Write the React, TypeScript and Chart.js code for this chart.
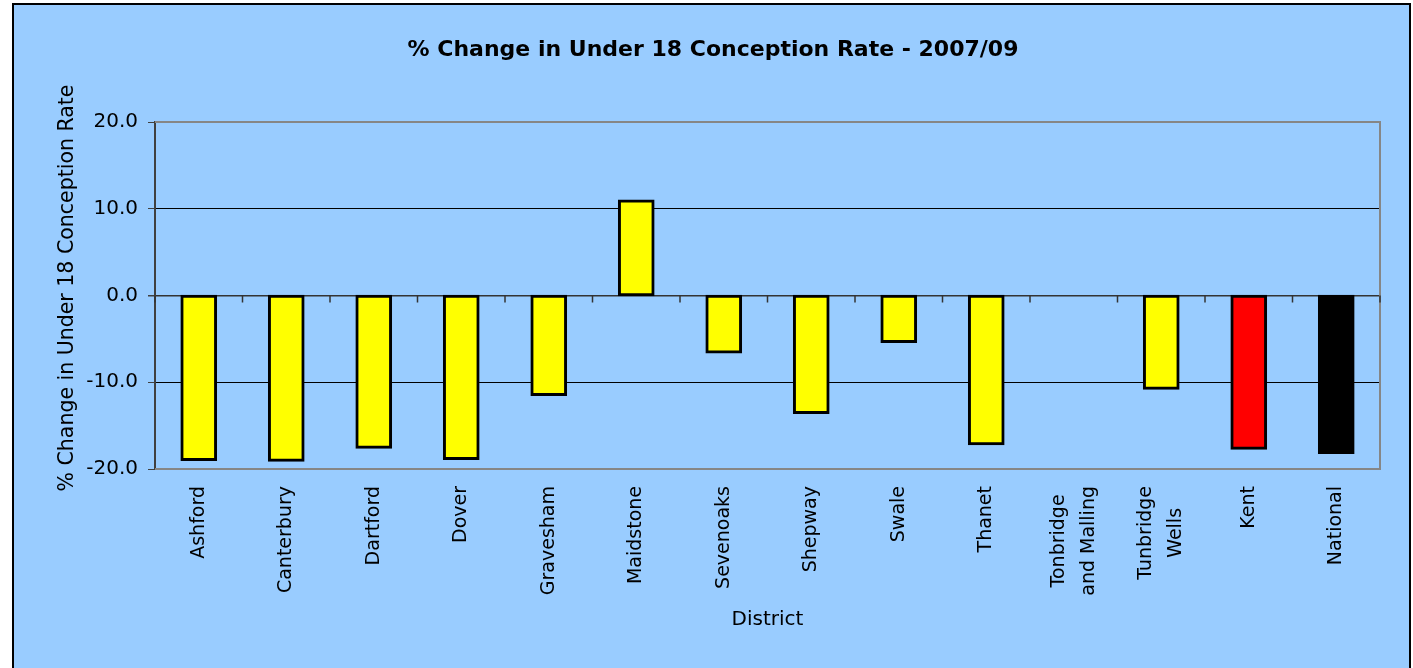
import React, { useEffect, useRef } from "react";
import { Chart, registerables } from "chart.js";

Chart.register(...registerables);

const chartTitle = "% Change in Under 18 Conception Rate - 2007/09";
const yAxisTitle = "% Change in Under 18 Conception Rate";
const xAxisTitle = "District";

const categories: (string | string[])[] = [
  "Ashford",
  "Canterbury",
  "Dartford",
  "Dover",
  "Gravesham",
  "Maidstone",
  "Sevenoaks",
  "Shepway",
  "Swale",
  "Thanet",
  ["Tonbridge", "and Malling"],
  ["Tunbridge", "Wells"],
  "Kent",
  "National",
];

const changeValues: (number | null)[] = [
  -18.9, -19.0, -17.5, -18.8, -11.4, 10.9, -6.5, -13.5, -5.3, -17.1, null, -10.7, -17.6, -18.1,
];

const barColors = [
  "#FFFF00", "#FFFF00", "#FFFF00", "#FFFF00", "#FFFF00", "#FFFF00", "#FFFF00",
  "#FFFF00", "#FFFF00", "#FFFF00", "#FFFF00", "#FFFF00", "#FF0000", "#000000",
];

const yMin = -20;
const yMax = 20;
const yStep = 10;

const FONT = "'DejaVu Sans', Verdana, sans-serif";

const textPlugin = {
  id: "customText",
  beforeDatasetsDraw(chart: any) {
    const { ctx, chartArea } = chart;
    const { left, right, top, bottom } = chartArea;
    ctx.save();
    ctx.strokeStyle = "#868686";
    ctx.lineWidth = 2;
    ctx.beginPath();
    ctx.moveTo(left, top);
    ctx.lineTo(right, top);
    ctx.lineTo(right, bottom);
    ctx.lineTo(left, bottom);
    ctx.stroke();
    const yScale = chart.scales.y;
    const y0 = yScale.getPixelForValue(0);
    const n = categories.length;
    ctx.strokeStyle = "#333333";
    ctx.lineWidth = 1.5;
    ctx.beginPath();
    for (let k = 0; k <= n; k++) {
      const x = left + ((right - left) * k) / n;
      ctx.moveTo(x, y0);
      ctx.lineTo(x, y0 + 7);
    }
    ctx.stroke();
    ctx.restore();
  },
  afterDraw(chart: any) {
    const { ctx, chartArea } = chart;
    const xScale = chart.scales.x;
    ctx.save();
    ctx.fillStyle = "#000";
    ctx.font = `bold 22px ${FONT}`;
    ctx.textAlign = "center";
    ctx.textBaseline = "alphabetic";
    ctx.fillText(chartTitle, 713, 56);
    ctx.font = `20px ${FONT}`;
    ctx.fillText(xAxisTitle, (chartArea.left + chartArea.right) / 2, 625);
    ctx.save();
    ctx.translate(73, 288);
    ctx.rotate(-Math.PI / 2);
    ctx.textAlign = "center";
    ctx.textBaseline = "alphabetic";
    ctx.font = `20.5px ${FONT}`;
    ctx.fillText(yAxisTitle, 0, 0);
    ctx.restore();
    ctx.font = `19px ${FONT}`;
    const lh = 30;
    categories.forEach((cat, i) => {
      const lines = Array.isArray(cat) ? cat : [cat];
      const x = xScale.getPixelForValue(i);
      const maxW = Math.max(...lines.map((l) => ctx.measureText(l).width));
      ctx.save();
      ctx.translate(x, 486);
      ctx.rotate(-Math.PI / 2);
      ctx.textAlign = "center";
      ctx.textBaseline = "middle";
      lines.forEach((line, j) => {
        ctx.fillText(line, -maxW / 2, (j - (lines.length - 1) / 2) * lh);
      });
      ctx.restore();
    });
    ctx.restore();
  },
};

export default function App() {
  const canvasRef = useRef<HTMLCanvasElement | null>(null);

  useEffect(() => {
    if (!canvasRef.current) return;
    const chart = new Chart(canvasRef.current, {
      type: "bar",
      data: {
        labels: categories.map((c) => (Array.isArray(c) ? c.join(" ") : c)),
        datasets: [
          {
            data: changeValues,
            backgroundColor: barColors,
            borderColor: "#000000",
            borderWidth: 3,
            borderSkipped: false,
            inflateAmount: 1.5,
            barPercentage: 0.385,
            categoryPercentage: 1,
          },
        ],
      },
      options: {
        animation: false,
        responsive: true,
        maintainAspectRatio: false,
        layout: { padding: { left: 50, top: 122, right: 33, bottom: 199 } },
        plugins: {
          legend: { display: false },
          tooltip: { enabled: false },
          title: { display: false },
        },
        scales: {
          x: {
            ticks: { display: false },
            grid: { display: false },
            border: { display: false },
            afterFit: (s: any) => {
              s.height = 0;
            },
          },
          y: {
            min: yMin,
            max: yMax,
            ticks: {
              stepSize: yStep,
              padding: 10,
              color: "#000",
              font: { family: FONT, size: 20 },
              callback: (v: any) => Number(v).toFixed(1),
            },
            grid: {
              color: (c: any) => {
                const v = c.tick ? c.tick.value : 0;
                if (v === yMin || v === yMax) return "rgba(0,0,0,0)";
                if (v === 0) return "#333333";
                return "#000000";
              },
              lineWidth: (c: any) => (c.tick && c.tick.value === 0 ? 1.5 : 1),
              tickColor: "#404040",
              tickLength: 7,
              drawTicks: true,
            },
            border: { display: true, color: "#404040", width: 2 },
            afterFit: (s: any) => {
              s.width = 105;
            },
          },
        },
      },
      plugins: [textPlugin],
    });
    return () => chart.destroy();
  }, []);

  return (
    <div
      style={{
        position: "fixed",
        left: 0,
        top: 0,
        width: 1413,
        height: 668,
        background: "#FFFFFF",
        overflow: "hidden",
      }}
    >
      <div
        style={{
          position: "absolute",
          left: 12,
          top: 3,
          width: 1399,
          height: 700,
          border: "2px solid #000",
          background: "#99CCFF",
          boxSizing: "border-box",
        }}
      />
      <div style={{ position: "absolute", left: 0, top: 0, width: 1413, height: 668 }}>
        <canvas ref={canvasRef} />
      </div>
    </div>
  );
}
